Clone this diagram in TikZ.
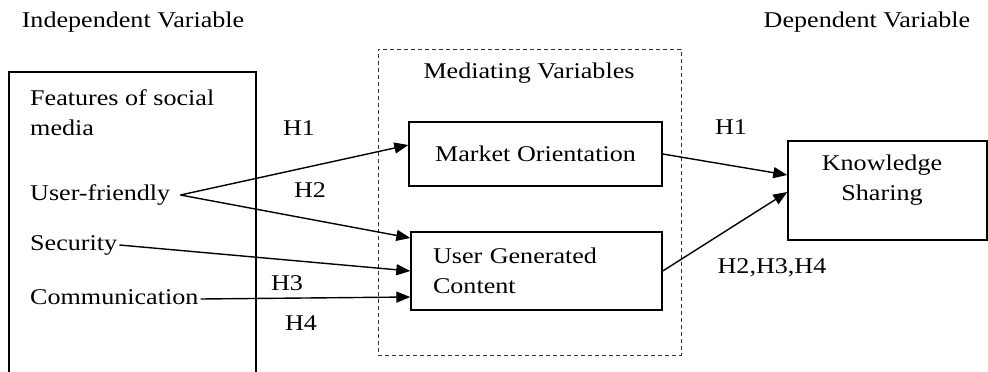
\documentclass[tikz,border=0pt]{standalone}
\usepackage{fontspec}
\setmainfont{Liberation Serif}[FakeStretch=1.16]
\usetikzlibrary{arrows.meta}
\begin{document}
\begin{tikzpicture}[x=1pt,y=-1pt,
  every node/.style={font=\fontsize{22.5}{30}\selectfont, inner sep=0pt},
  box/.style={draw, line width=1.4pt},
  conn/.style={line width=1.4pt, -{Triangle[length=14pt,width=11pt]}},
  lbl/.style={anchor=center}]
\useasboundingbox (0,0) rectangle (988,372);
% headers
\node (iv) at (133,22) {Independent Variable};
\node (dv) at (867,22) {Dependent Variable};
% mediating dashed box
\node[draw=black!80, line width=0.9pt, dash pattern=on 4pt off 3pt, minimum width=303pt, minimum height=306pt] (med) at (529.5,202) {};
\node (medl) at (529,73) {Mediating Variables};
% left box
\draw[line width=1.4pt] (9,380) -- (9,72) -- (256,72) -- (256,380);
\node[anchor=west, align=left] (feat) at (30,113) {Features of social\\media};
\node[anchor=west] (uf) at (30,195) {User-friendly};
\node[anchor=west] (sec) at (30,245) {Security};
\node[anchor=west] (comm) at (30,297) {Communication};
% mediators
\node[box, minimum width=253pt, minimum height=64pt] (mo) at (535.5,154) {Market Orientation};
\node[box, minimum width=251pt, minimum height=78pt, text width=207pt, inner xsep=22pt, align=left] (ugc) at (536.5,271) {User Generated\\Content};
% dependent
\node[box, minimum width=199pt, minimum height=99pt] (ks) at (887.5,190.5) {};
\node[align=center] (ksl) at (882,180) {Knowledge\\Sharing};
% connectors
\draw[conn] ([xshift=10pt]uf.east) -- ([yshift=9pt]mo.west);
\draw[conn] ([xshift=10pt]uf.east) -- ([yshift=33pt]ugc.west);
\draw[conn] ([xshift=2pt]sec.east) -- (ugc.west);
\draw[conn] ([xshift=2pt,yshift=-2pt]comm.east) -- ([yshift=-26pt]ugc.west);
\draw[conn] (mo.east) -- ([yshift=15.5pt]ks.west);
\draw[conn] (ugc.east) -- ([yshift=-1.5pt]ks.west);
% labels
\node[lbl] (h1a) at (299,128) {H1};
\node[lbl] (h2a) at (310,190) {H2};
\node[lbl] (h3) at (287,283) {H3};
\node[lbl] (h4) at (301,323) {H4};
\node[lbl] (h1b) at (731,127) {H1};
\node[lbl] (h234) at (772,268) {H2,H3,H4};
\end{tikzpicture}
\end{document}
